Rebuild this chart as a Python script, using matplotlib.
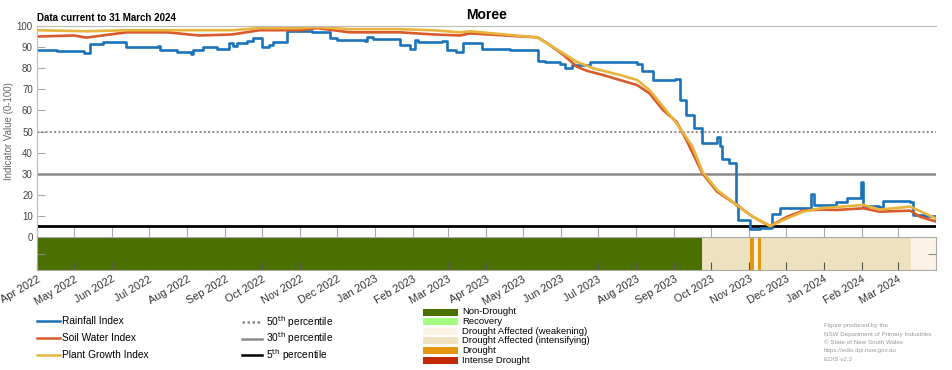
import matplotlib
matplotlib.use("Agg")
import matplotlib.pyplot as plt
import matplotlib.dates as mdates
from matplotlib.lines import Line2D
from matplotlib.patches import Rectangle
import pandas as pd

plt.rcParams["font.family"] = ["Liberation Sans", "DejaVu Sans"]

START = pd.Timestamp("2022-04-01")
END = pd.Timestamp("2024-04-01")

# days since 1 April 2022, step values (rainfall index)
rain_days = [0, 16, 38, 43, 54, 72, 98, 100, 114, 125, 127, 135, 146, 156, 159,
             163, 171, 176, 183, 189, 192, 203, 224, 238, 244, 267, 268, 273,
             295, 303, 307, 310, 329, 333, 341, 346, 362, 385, 407, 413, 425,
             429, 435, 450, 488, 492, 501, 519, 523, 528, 534, 541, 553, 555,
             557, 563, 568, 570, 580, 588, 598, 604, 629, 632, 650, 659, 670,
             672, 685, 688, 710, 712, 722, 731]
rain_vals = [88.5, 88, 87, 91.5, 92.5, 90, 90.5, 88.5, 87.5, 86.5, 88.5, 90, 89,
             92, 90.5, 92, 93, 94.5, 90, 91, 92.5, 97.5, 97, 94.5, 93.5, 93, 95,
             94, 91, 89, 93.5, 92.5, 93, 88.5, 87.5, 92, 89, 88.5, 83.5, 83, 82,
             80, 81.5, 83, 82, 78.5, 74.5, 75, 65, 58, 51.5, 44.5, 47.5, 43,
             37, 35, 15, 8, 4, 4.5, 11, 13.6, 20.5, 15, 16.5, 18.5, 26,
             14.5, 14, 17, 16.5, 10.5, 10, 8.5]

soil_days = [0, 30, 40, 73, 106, 132, 159, 181, 214, 228, 254, 295, 322, 344,
             352, 407, 415, 428, 439, 447, 460, 474, 488, 498, 509, 520, 528,
             541, 553, 569, 582, 596, 610, 623, 637, 650, 672, 685, 710, 718, 731]
soil_vals = [95, 95.5, 94.5, 97, 97, 95.5, 96, 98, 98, 99, 97, 97, 96, 95.5,
             96.5, 94.6, 91.8, 86.3, 80.7, 78.8, 76.8, 74.4, 72, 68.1, 60.2,
             54.6, 46, 30.2, 21.5, 15.2, 9.6, 5.2, 9.6, 12.5, 13, 12.8, 13.6,
             12, 12.5, 9.6, 7.3]

plant_days = [0, 40, 73, 132, 159, 181, 214, 228, 254, 295, 322, 344, 352, 407,
              428, 439, 452, 460, 474, 488, 498, 509, 520, 533, 541, 553, 569,
              582, 596, 610, 623, 637, 672, 685, 710, 731]
plant_vals = [98, 97.5, 98, 98, 98, 99, 99, 99.5, 98.5, 98.5, 98, 97, 97.5,
              94.6, 87, 83, 80, 78.8, 76.8, 74.4, 69.7, 61.8, 53.9, 42.9, 31,
              22.3, 15.2, 9.6, 5.2, 8.8, 12, 13.6, 15.2, 13, 14.4, 8.8]

# drought status segments (start day, end day, class)
status_start = [0, 541, 580, 583, 586, 589, 711]
status_end = [541, 580, 583, 586, 589, 711, 731]
status_class = [0, 3, 4, 2, 4, 3, 2]

status_names = ["Non-Drought", "Recovery", "Drought Affected (weakening)",
                "Drought Affected (intensifying)", "Drought", "Intense Drought"]
status_colors = ["#4a7000", "#a3ff82", "#fcf3e6", "#ede1bf", "#e5980e", "#c22a06"]

percentiles = [50, 30, 5]

W, H = 952, 370


def px(x, y):
    """pixel position -> figure fraction"""
    return x / W, 1 - y / H


def to_dates(days):
    return START + pd.to_timedelta(days, unit="D")


def drought_chart():
    fig = plt.figure(figsize=(9.52, 3.7), dpi=100)
    ax = fig.add_axes([37 / W, 1 - 237 / H, 899 / W, 211 / H])
    band = fig.add_axes([37 / W, 1 - 270 / H, 899 / W, 33 / H])

    ax.axhline(50, color="#8a8a8a", lw=1.4, ls=(0, (1, 1.2)))
    ax.axhline(30, color="#8a8a8a", lw=1.8)
    ax.axhline(5, color="black", lw=2)

    ax.plot(to_dates(rain_days), rain_vals, color="#1b73ba", lw=1.9,
            drawstyle="steps-post")
    ax.plot(to_dates(soil_days), soil_vals, color="#d95a2b", lw=1.9)
    ax.plot(to_dates(plant_days), plant_vals, color="#e9b43c", lw=1.9)

    months = pd.date_range(START, "2024-03-01", freq="MS")

    ax.set_xlim(START, END)
    ax.set_ylim(0, 100)
    ax.set_yticks(range(0, 101, 10))
    ax.tick_params(axis="y", direction="in", length=6, color="#aaaaaa",
                   labelsize=7, labelcolor="#444444", pad=3)
    ax.set_xticks(months)
    ax.tick_params(axis="x", direction="in", length=7, color="#aaaaaa",
                   labelbottom=False)
    for s in ["right", "bottom"]:
        ax.spines[s].set_visible(False)
    for s in ["left", "top"]:
        ax.spines[s].set_color("#bbbbbb")
        ax.spines[s].set_linewidth(0.8)
    ax.set_ylabel("Indicator Value (0-100)", fontsize=7, color="#666666",
                  labelpad=2)

    for s0, s1, c in zip(status_start, status_end, status_class):
        band.axvspan(to_dates([s0])[0], to_dates([s1])[0], color=status_colors[c],
                     lw=0)
    band.set_xlim(START, END)
    band.set_ylim(0, 1)
    band.set_yticks([0.5])
    band.tick_params(axis="y", direction="in", length=6, color="#888888",
                     left=True, right=True, labelleft=False)
    band.set_xticks(months)
    band.xaxis.set_major_formatter(mdates.DateFormatter("%b %Y"))
    band.tick_params(axis="x", direction="in", length=6, color="#555555",
                     labelsize=7.8, labelcolor="#333333", pad=3)
    plt.setp(band.get_xticklabels(), rotation=30, ha="right",
             rotation_mode="anchor")
    for s in band.spines.values():
        s.set_color("#aaaaaa")
        s.set_linewidth(0.8)

    fig.text(*px(37, 18), "Data current to 31 March 2024", fontsize=7,
             fontweight="bold", va="center")
    fig.text(*px(487, 15), "Moree", fontsize=10, fontweight="bold",
             ha="center", va="center")

    # index legend
    index_names = ["Rainfall Index", "Soil Water Index", "Plant Growth Index"]
    index_colors = ["#1b73ba", "#d95a2b", "#e9b43c"]
    for i, (name, col) in enumerate(zip(index_names, index_colors)):
        y = 321 + i * 16.8
        x0, y0 = px(37, y)
        x1, _ = px(60, y)
        fig.add_artist(Line2D([x0, x1], [y0, y0], color=col, lw=1.8,
                              transform=fig.transFigure))
        fig.text(*px(62, y), name, fontsize=7.3, va="center")

    # percentile legend
    pct_styles = [((0, (1, 1)), "#8a8a8a"), ("-", "#8a8a8a"), ("-", "black")]
    for i, (p, (ls, col)) in enumerate(zip(percentiles, pct_styles)):
        y = 322 + i * 16.5
        x0, y0 = px(242, y)
        x1, _ = px(262, y)
        fig.add_artist(Line2D([x0, x1], [y0, y0], color=col, lw=1.8, ls=ls,
                              transform=fig.transFigure))
        fig.text(*px(266, y), f"{p}$^{{\\mathrm{{th}}}}$ percentile",
                 fontsize=7.3, va="center")

    # drought status legend
    for i, (name, col) in enumerate(zip(status_names, status_colors)):
        y = 312 + i * 9.65
        x0, y0 = px(423, y + 3.5)
        fig.add_artist(Rectangle((x0, y0), 35 / W, 7 / H, color=col, lw=0,
                                 transform=fig.transFigure))
        fig.text(*px(462, y), name, fontsize=6.8, va="center")

    credit = ["Figure produced by the", "NSW Department of Primary Industries",
              "\u00a9 State of New South Wales", "https://edis.dpi.nsw.gov.au",
              "EDIS v2.2"]
    for i, line in enumerate(credit):
        fig.text(*px(824, 326 + i * 8.3), line, fontsize=4.5, color="#999999",
                 va="center")

    fig.savefig("out.png", dpi=100)


def main():
    drought_chart()


if __name__ == "__main__":
    main()
